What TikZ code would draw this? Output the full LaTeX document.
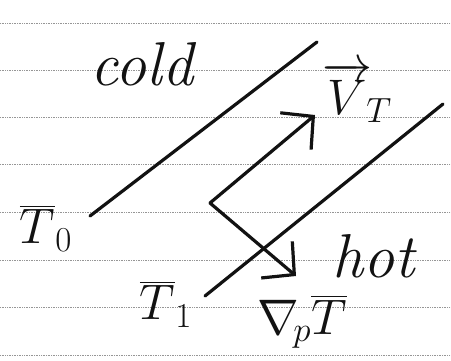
\RequirePackage{fix-cm}
\documentclass[tikz,border=0pt]{standalone}
\usepackage{amsmath}
\usetikzlibrary{arrows.meta}
\definecolor{skink}{RGB}{18,18,18}
\definecolor{skrule}{RGB}{150,150,150}
\tikzset{
  ruling/.style={draw=skrule, line width=0.7pt, densely dotted},
  isoline/.style={draw=skink, line width=3.2pt, line cap=round},
  vecarr/.style={isoline, -{Straight Barb[length=23pt,width=48pt]}},
  lbl/.style={text=skink, inner sep=0pt},
  bigtxt/.style={lbl, font=\fontsize{62}{72}\selectfont\itshape},
  bigmath/.style={lbl, font=\fontsize{50}{60}\selectfont}
}
\begin{document}
\begin{tikzpicture}[x=1pt,y=-1pt]
  \useasboundingbox (0,0) rectangle (451,360);
  % ruled paper
  \foreach \yy in {23,70,117,164,212,260,307,355}
    \draw[ruling] (0,\yy) -- (451,\yy);
  % isotherm end points and vector base
  \coordinate (c0a) at (90,216);
  \coordinate (c0b) at (317,42);
  \coordinate (c1a) at (205,296);
  \coordinate (c1b) at (443,104);
  \coordinate (base) at (210,203);
  \coordinate (vtip) at (315,115);
  \coordinate (gtip) at (296,276);
  \draw[isoline] (c0a) -- (c0b);
  \draw[isoline] (c1a) -- (c1b);
  \draw[vecarr] (base) -- (vtip);
  \draw[vecarr] (base) -- (gtip);
  % labels
  \node[bigtxt] (cold) at (142,64) {cold};
  \node[bigtxt] (hot) at (374,256) {hot};
  \node[bigmath] (vt) at (357,92) {$\overrightarrow{V}_{\!T}$};
  \node[bigmath] (tzero) at (46,228) {$\overline{T}_0$};
  \node[bigmath] (tone) at (166,304) {$\overline{T}_1$};
  \node[bigmath] (grad) at (302,322) {$\nabla_{\!p}\overline{T}$};
\end{tikzpicture}
\end{document}
